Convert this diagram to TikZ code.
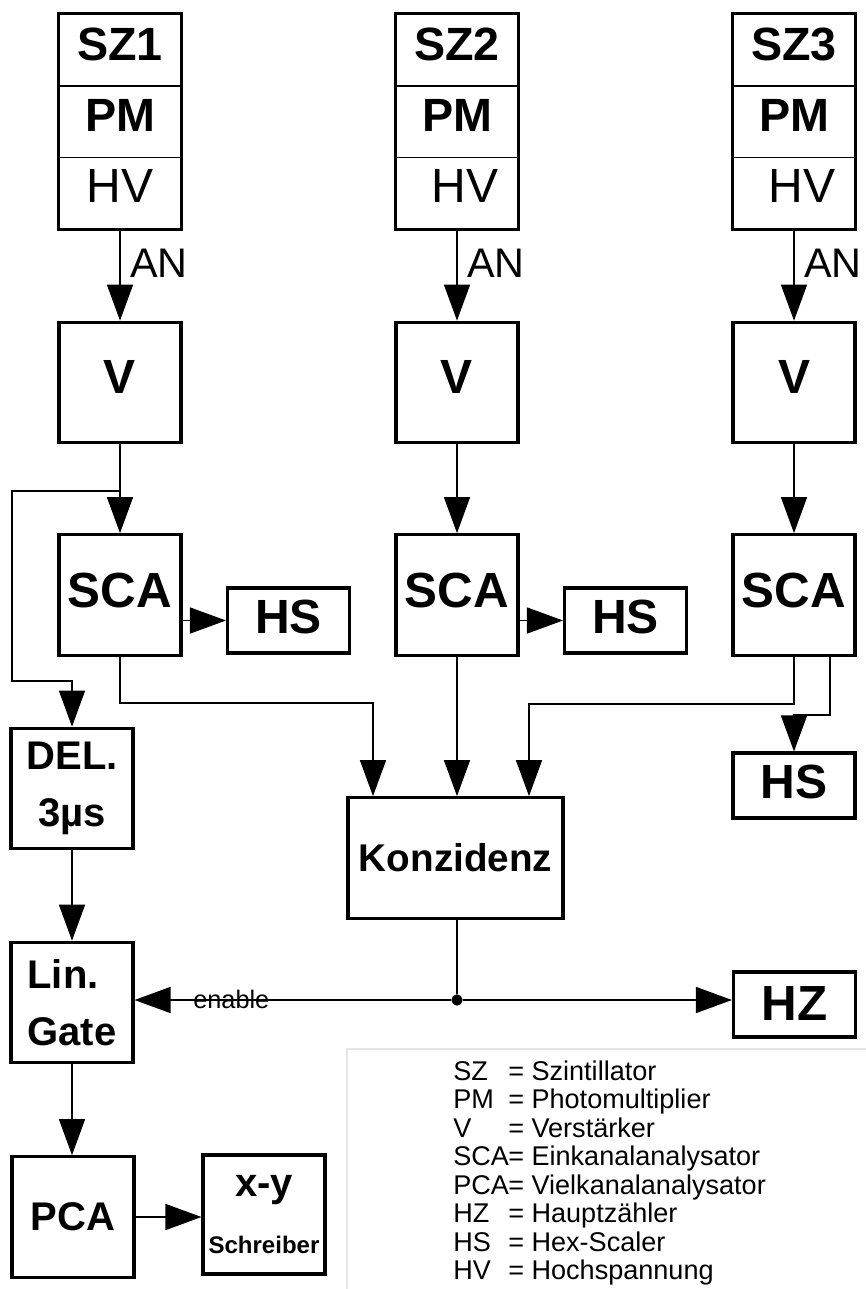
\documentclass[tikz,border=0pt]{standalone}
\usepackage{fontspec}
\setmainfont{Liberation Sans}
\usetikzlibrary{arrows.meta}

\begin{document}
\begin{tikzpicture}[
    x=0.75pt,
    y=-0.75pt,
    >={Triangle[length=27pt,width=19.5pt]},
    part/.style={draw, line width=1pt, minimum width=91.5pt, minimum height=53.75pt, inner sep=0pt, text depth=8pt},
    blk/.style={draw, line width=2.3pt, minimum width=91.5pt, minimum height=90.5pt, inner sep=0pt, font=\bfseries\fontsize{36}{40}\selectfont},
    flat/.style={blk, minimum height=48.75pt, text depth=5pt},
    two/.style={blk, align=center, font=\bfseries\fontsize{30}{43}\selectfont},
    dot/.style={circle, fill, inner sep=0pt, minimum size=8.5pt},
    line/.style={line width=1.1pt},
    arrow/.style={line, ->},
    lbl/.style={anchor=base west, inner sep=0pt, font=\fontsize{31}{36}\selectfont},
    key/.style={anchor=base west, inner sep=0pt, font=\fontsize{20.3}{23}\selectfont}
]
\useasboundingbox (0,0) rectangle (865,1289);

% detector chains
\foreach \i/\cx/\hvx in {1/120/0, 2/457/12, 3/794/12} {
  \node[part, font=\bfseries\fontsize{35}{40}\selectfont] (sz\i) at (\cx,50) {SZ\i};
  \node[part, font=\bfseries\fontsize{35}{40}\selectfont, text depth=9pt] (pm\i) at (\cx,121.5) {PM};
  \node[part, font=\fontsize{36}{40}\selectfont, text depth=10.5pt] (hv\i) at (\cx,193) {\hspace{\hvx pt}HV};
  \draw[line width=2.3pt] (sz\i.north west) rectangle (hv\i.south east);
  \node[lbl] (an\i) at (\cx+10,277) {AN};
  \node[blk, text depth=9pt] (v\i) at (\cx,382.5) {V};
  \node[blk, text depth=7pt, font=\bfseries\fontsize{37}{40}\selectfont] (sca\i) at (\cx,595) {SCA};
  \draw[arrow] (hv\i) -- (v\i);
}

\node[flat] (hs1) at (288.5,620.5) {HS};
\node[flat] (hs2) at (625.5,620.5) {HS};
\node[flat] (hs3) at (794,785.5) {HS};
\node[flat, text depth=2pt, font=\bfseries\fontsize{37}{40}\selectfont] (hz) at (794.5,1004.5) {HZ};
\node[blk, minimum width=161.25pt, font=\bfseries\fontsize{29}{34}\selectfont] (konz) at (455.5,858) {Konzidenz};
\node[two] (del) at (72,788.5) {DEL.\\3µs};
\node[two, align=left] (gate) at (72,1002.5) {Lin.\\Gate};
\node[blk, font=\bfseries\fontsize{30}{34}\selectfont] (pca) at (73,1217) {PCA};
\node[two, minimum height=89.25pt] (xy) at (264,1214.5) {x-y\\{\fontsize{18}{43}\selectfont Schreiber}};
\node[dot] (junc) at (457,1000) {};
\node[anchor=base west, inner sep=0pt, font=\fontsize{19}{22}\selectfont] (enable) at (193,1008) {enable};

\coordinate (split1) at (120,491);
\coordinate (tapleft) at (12,681);
\coordinate (kin1) at (373,703);
\coordinate (kin3) at (529,704);
\coordinate (tap3) at (830,715);

% signal paths
\draw[line] (v1) -- (split1);
\draw[arrow] (split1) -- (sca1);
\draw[arrow] (split1) -| (tapleft) -| (del.north);
\foreach \i in {2,3} \draw[arrow] (v\i) -- (sca\i);
\draw[arrow] (sca1.east |- hs1.west) -- (hs1.west);
\draw[arrow] (sca2.east |- hs2.west) -- (hs2.west);
\draw[arrow] (sca1.south) |- (kin1) -- (kin1 |- konz.north);
\draw[arrow] (sca2.south) -- (sca2.south |- konz.north);
\draw[arrow] (sca3.south) |- (kin3) -- (kin3 |- konz.north);
\draw[arrow] (tap3 |- sca3.south) -- (tap3) -| (hs3.north);
\draw[arrow] (del) -- (gate);
\draw[line] (konz.south -| junc) -- (junc);
\draw[arrow] (junc) -- (junc -| gate.east);
\draw[arrow] (junc) -- (junc -| hz.west);
\draw[arrow] (gate.south) -- (gate.south |- pca.north);
\draw[arrow] (pca.east) -- (pca.east -| xy.west);

% legend
\draw[gray!20, line width=1pt] (347,1049) rectangle (870,1295);
\foreach \k/\ab/\txt in {0/SZ/Szintillator, 1/PM/Photomultiplier, 2/V/Verstärker, 3/SCA/Einkanalanalysator, 4/PCA/Vielkanalanalysator, 5/HZ/Hauptzähler, 6/HS/Hex-Scaler, 7/HV/Hochspannung} {
  \node[key] (ab\k) at (453,1080+28.5*\k) {\ab};
  \node[key] (tx\k) at (508,1080+28.5*\k) {= \txt};
}
\end{tikzpicture}
\end{document}
